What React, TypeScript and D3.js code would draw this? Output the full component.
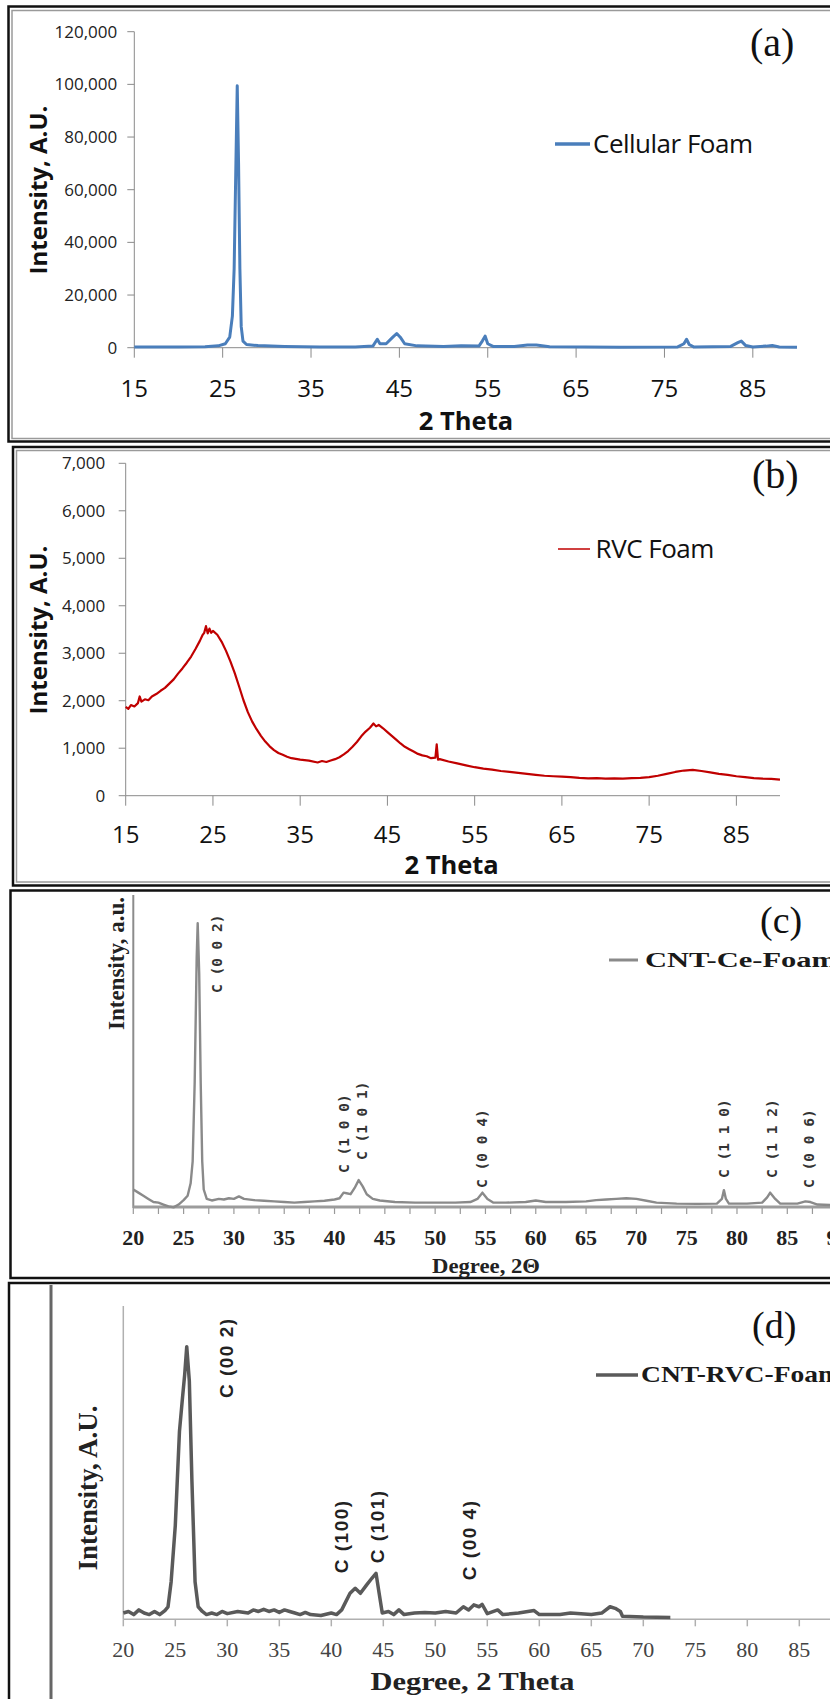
import * as d3 from "d3";

// (a) Cellular foam, 2 theta vs intensity
const cellularFoam: [number, number][] = [
  [15, 300], [18, 250], [20, 300], [23, 400], [24.5, 700], [25.3, 1500], [25.8, 4000],
  [26.1, 12000], [26.3, 30000], [26.5, 70000], [26.65, 99500], [26.8, 70000], [26.95, 30000],
  [27.1, 8000], [27.3, 2500], [27.7, 1200], [29, 800], [32, 500], [36, 300], [40, 300],
  [42, 600], [42.5, 3200], [42.8, 1500], [43.5, 1500], [44.2, 3800], [44.7, 5400], [45.1, 4000],
  [45.6, 1500], [47, 700], [50, 500], [52, 700], [54, 600], [54.4, 2600], [54.7, 4400],
  [55.0, 1500], [55.6, 500], [58, 500], [59.5, 1000], [60.5, 1000], [62, 400], [66, 250],
  [70, 200], [76.5, 300], [77.2, 1500], [77.5, 3200], [77.8, 1200], [78.3, 300], [82.5, 500],
  [83.3, 1900], [83.7, 2500], [84.2, 800], [85, 300], [86.5, 600], [87.2, 800], [88, 300], [90, 150],
];
const aYTicks = [0, 20000, 40000, 60000, 80000, 100000, 120000];
const aXTicks = [15, 25, 35, 45, 55, 65, 75, 85];

// (b) RVC foam
const rvcFoam: [number, number][] = [
  [15, 1870], [15.3, 1830], [15.6, 1910], [16, 1880], [16.4, 1950], [16.6, 2090], [16.8, 1980],
  [17.2, 2030], [17.6, 2010], [18, 2090], [18.5, 2140], [19, 2210], [19.5, 2270], [20, 2360],
  [20.5, 2450], [21, 2570], [21.5, 2680], [22, 2800], [22.5, 2930], [23, 3090], [23.5, 3260],
  [23.8, 3380], [24, 3430], [24.2, 3570], [24.4, 3420], [24.6, 3520], [24.8, 3430], [25, 3470],
  [25.5, 3390], [26, 3240], [26.5, 3050], [27, 2830], [27.5, 2580], [28, 2300], [28.5, 2010],
  [29, 1760], [29.5, 1560], [30, 1400], [30.5, 1260], [31, 1140], [31.5, 1040], [32, 960],
  [32.5, 900], [33, 860], [33.5, 820], [34, 790], [35, 760], [36, 740], [37, 700], [37.5, 730],
  [38, 710], [38.5, 740], [39, 770], [39.5, 810], [40, 870], [40.5, 940], [41, 1030],
  [41.5, 1130], [42, 1250], [42.5, 1350], [43, 1430], [43.4, 1520], [43.7, 1460], [44, 1490],
  [44.5, 1420], [45, 1340], [45.5, 1260], [46, 1180], [46.5, 1100], [47, 1030], [47.5, 980],
  [48, 930], [48.5, 880], [49, 850], [49.5, 830], [50, 790], [50.5, 800], [50.65, 1080],
  [50.8, 760], [51, 770], [52, 720], [53, 680], [54, 640], [55, 600], [56, 570], [57, 550],
  [58, 520], [59, 500], [60, 480], [61, 460], [62, 440], [63, 420], [64, 410], [65, 400],
  [66, 390], [67, 375], [68, 365], [69, 370], [70, 360], [71, 365], [72, 360], [73, 370],
  [74, 375], [75, 390], [76, 420], [77, 460], [78, 500], [79, 530], [80, 545], [81, 520],
  [82, 490], [83, 460], [84, 440], [85, 410], [86, 390], [87, 370], [88, 360], [89, 355], [90, 340],
];
const bYTicks = [0, 1000, 2000, 3000, 4000, 5000, 6000, 7000];
const bXTicks = [15, 25, 35, 45, 55, 65, 75, 85];

// (c) CNT-Ce-Foam (arbitrary units 0..100)
const cntCeFoam: [number, number][] = [
  [20, 6], [20.5, 5], [21, 4], [21.5, 3], [22, 2], [22.5, 1.8], [23, 1.2], [23.5, 0.6], [24, 0.3],
  [24.5, 1.2], [25, 2.6], [25.4, 4], [25.7, 8], [25.9, 15], [26.1, 40], [26.3, 80], [26.4, 91],
  [26.55, 75], [26.7, 40], [26.85, 15], [27, 6], [27.3, 3], [27.8, 2.5], [28.5, 3], [29, 2.8],
  [29.5, 3.2], [30, 3], [30.5, 3.8], [31, 3], [32, 2.6], [33, 2.4], [34, 2.2], [35, 2], [36, 1.8],
  [37, 2], [38, 2.2], [39, 2.4], [40, 2.8], [40.5, 3.2], [40.9, 5], [41.2, 4.8], [41.6, 4.5],
  [42, 6.5], [42.4, 9], [42.8, 7], [43.2, 4.5], [43.8, 3], [44.5, 2.5], [46, 2], [48, 1.8],
  [50, 1.8], [52, 1.8], [53.5, 2], [54.2, 3], [54.7, 5], [55.2, 3], [55.8, 1.8], [57, 1.8],
  [59, 2], [60, 2.5], [61, 2], [63, 2], [65, 2.2], [66, 2.6], [67, 2.8], [68, 3], [69, 3.2],
  [70, 3], [71, 2.4], [72, 1.8], [74, 1.5], [76, 1.4], [78, 1.5], [78.5, 3], [78.7, 5.8],
  [78.9, 3], [79.2, 1.5], [81, 1.5], [82.5, 1.8], [83, 3.5], [83.3, 5], [83.8, 3], [84.3, 1.5],
  [86, 1.5], [86.8, 2.2], [87.3, 2], [88, 1.2], [90, 1],
];
const cXTicks = [20, 25, 30, 35, 40, 45, 50, 55, 60, 65, 70, 75, 80, 85, 90];
const cMinorTicks = d3.range(20, 91, 2.5);
const cPeaks = [
  { label: "C (0 0 2)", deg: 28.8, at: 68.7 },
  { label: "C (1 0 0)", deg: 41.4, at: 11.3 },
  { label: "C (1 0 1)", deg: 43.2, at: 15.4 },
  { label: "C (0 0 4)", deg: 55.2, at: 6.5 },
  { label: "C (1 1 0)", deg: 79.2, at: 9.7 },
  { label: "C (1 1 2)", deg: 84.0, at: 9.7 },
  { label: "C (0 0 6)", deg: 87.7, at: 6.5 },
];

// (d) CNT-RVC-Foam (arbitrary units 0..100)
const cntRvcFoam: [number, number][] = [
  [20, 2], [20.5, 2.5], [21, 1.5], [21.5, 3], [22, 2], [22.5, 1.5], [23, 2.5], [23.5, 1.5],
  [24, 2.8], [24.3, 4], [24.6, 12], [25, 30], [25.4, 60], [25.7, 71], [25.9, 78], [26.1, 87],
  [26.35, 76], [26.6, 44], [26.9, 12], [27.2, 4], [27.6, 2.5], [28, 1.5], [28.5, 2], [29, 1.5],
  [29.5, 2.5], [30, 1.8], [31, 2.5], [32, 2], [32.5, 3], [33, 2.5], [33.5, 3.2], [34, 2.5],
  [34.5, 3], [35, 2.2], [35.5, 3], [36, 2.5], [36.5, 2], [37, 1.5], [37.5, 2.2], [38, 1.5],
  [39, 1.2], [40, 2], [40.5, 1.5], [41, 3], [41.3, 5], [41.8, 8.3], [42.3, 9.9], [42.8, 8.3],
  [43.4, 11], [43.9, 13.1], [44.3, 14.7], [44.6, 8.3], [44.9, 2], [45.5, 2.5], [46, 1.5],
  [46.5, 3], [47, 1.5], [48, 2], [49, 2.2], [50, 2], [51, 2.5], [52, 2], [52.7, 4], [53.2, 3],
  [53.7, 4.6], [54.2, 4], [54.5, 4.8], [55, 1.8], [56, 3], [56.5, 1.5], [58, 2], [59.5, 2.8],
  [60, 1.5], [62, 1.5], [63, 2], [65, 1.5], [66, 2], [66.8, 4], [67.3, 3.5], [67.8, 2.5],
  [68, 1], [70, 0.7], [72.6, 0.6],
];
const dXTicks = [20, 25, 30, 35, 40, 45, 50, 55, 60, 65, 70, 75, 80, 85];
const dPeaks = [
  { label: "C (00 2)", deg: 30.5, at: 70.6 },
  { label: "C (100)", deg: 41.6, at: 14.7 },
  { label: "C (101)", deg: 45.1, at: 17.9 },
  { label: "C (00 4)", deg: 53.9, at: 12.5 },
];

const sans = "'Open Sans', 'Liberation Sans', sans-serif";
const serif = "'Liberation Serif', 'Times New Roman', serif";
const mono = "'DejaVu Sans Mono', monospace";
const fmt = d3.format(",");

function PanelA() {
  const x = d3.scaleLinear().domain([15, 90]).range([134.3, 797]);
  const y = d3.scaleLinear().domain([0, 120000]).range([347.7, 31.7]);
  const line = d3.line<[number, number]>().x(d => x(d[0])).y(d => y(d[1]));
  return (
    <g>
      <line x1={x(15)} x2={x(15)} y1={y(0)} y2={y(120000)} stroke="#8a8a8a" />
      {aYTicks.map(t => (
        <g key={t}>
          <line x1={x(15) - 7} x2={x(15)} y1={y(t)} y2={y(t)} stroke="#8a8a8a" />
          <text x={x(15) - 17} y={y(t)} dy="0.35em" textAnchor="end" fontSize={17} fontFamily={sans} fill="#222">{fmt(t)}</text>
        </g>
      ))}
      <line x1={x(15)} x2={x(90)} y1={y(0)} y2={y(0)} stroke="#8a8a8a" />
      {aXTicks.map(t => (
        <g key={t}>
          <line x1={x(t)} x2={x(t)} y1={y(0)} y2={y(0) + 10} stroke="#8a8a8a" />
          <text x={x(t)} y={y(0) + 49} textAnchor="middle" fontSize={24} fontFamily={sans} fill="#111">{t}</text>
        </g>
      ))}
      <path d={line(cellularFoam) ?? ""} fill="none" stroke="#4a7ebb" strokeWidth={3} strokeLinejoin="round" />
      <text x={466} y={430} textAnchor="middle" fontSize={25.5} fontWeight="bold" fontFamily={sans} fill="#111">2 Theta</text>
      <text transform="translate(47,190) rotate(-90)" textAnchor="middle" fontSize={24} fontWeight="bold" fontFamily={sans} fill="#111">Intensity, A.U.</text>
      <line x1={555} x2={590} y1={144} y2={144} stroke="#4a7ebb" strokeWidth={3.5} />
      <text x={593} y={153} fontSize={26} fontFamily={sans} fill="#111" letterSpacing={-0.5}>Cellular Foam</text>
      <text x={750} y={56} fontSize={40} fontFamily={serif} fill="#111">(a)</text>
    </g>
  );
}

function PanelB() {
  const x = d3.scaleLinear().domain([15, 90]).range([125.7, 780]);
  const y = d3.scaleLinear().domain([0, 7000]).range([795.7, 463.3]);
  const line = d3.line<[number, number]>().x(d => x(d[0])).y(d => y(d[1]));
  return (
    <g>
      <line x1={x(15)} x2={x(15)} y1={y(0)} y2={y(7000)} stroke="#8a8a8a" />
      {bYTicks.map(t => (
        <g key={t}>
          <line x1={x(15) - 7} x2={x(15)} y1={y(t)} y2={y(t)} stroke="#8a8a8a" />
          <text x={x(15) - 20.5} y={y(t)} dy="0.35em" textAnchor="end" fontSize={17} fontFamily={sans} fill="#222">{fmt(t)}</text>
        </g>
      ))}
      <line x1={x(15)} x2={x(90)} y1={y(0)} y2={y(0)} stroke="#8a8a8a" />
      {bXTicks.map(t => (
        <g key={t}>
          <line x1={x(t)} x2={x(t)} y1={y(0)} y2={y(0) + 10} stroke="#8a8a8a" />
          <text x={x(t)} y={y(0) + 47} textAnchor="middle" fontSize={24} fontFamily={sans} fill="#111">{t}</text>
        </g>
      ))}
      <path d={line(rvcFoam) ?? ""} fill="none" stroke="#c00000" strokeWidth={2.2} strokeLinejoin="round" />
      <text x={451.6} y={874} textAnchor="middle" fontSize={25.5} fontWeight="bold" fontFamily={sans} fill="#111">2 Theta</text>
      <text transform="translate(46.7,630) rotate(-90)" textAnchor="middle" fontSize={24} fontWeight="bold" fontFamily={sans} fill="#111">Intensity, A.U.</text>
      <line x1={558} x2={590} y1={549} y2={549} stroke="#c00000" strokeWidth={1.5} />
      <text x={595.6} y={558} fontSize={26} fontFamily={sans} fill="#111" letterSpacing={-0.5}>RVC Foam</text>
      <text x={752} y={488} fontSize={40} fontFamily={serif} fill="#111">(b)</text>
    </g>
  );
}

function PanelC() {
  const x = d3.scaleLinear().domain([20, 90]).range([133.3, 837.6]);
  const y = d3.scaleLinear().domain([0, 100]).range([1208.3, 895]);
  const line = d3.line<[number, number]>().x(d => x(d[0])).y(d => y(d[1]));
  return (
    <g>
      <line x1={x(20)} x2={x(20)} y1={1208} y2={895} stroke="#8c8c8c" strokeWidth={2} />
      <line x1={x(20)} x2={840} y1={1207} y2={1207} stroke="#9c9c9c" strokeWidth={3} />
      {cMinorTicks.map(t => (
        <line key={t} x1={x(t)} x2={x(t)} y1={1208} y2={1214} stroke="#999" strokeWidth={1.2} />
      ))}
      {cXTicks.map(t => (
        <text key={t} x={x(t)} y={1245} textAnchor="middle" fontSize={22} fontWeight="bold" fontFamily={serif} fill="#222">{t}</text>
      ))}
      <path d={line(cntCeFoam) ?? ""} fill="none" stroke="#8a8a8a" strokeWidth={2.4} strokeLinejoin="round" />
      {cPeaks.map(p => (
        <text key={p.label + p.deg} transform={`translate(${x(p.deg)},${y(p.at)}) rotate(-90)`} fontSize={14.5} fontWeight="bold" fontFamily={mono} fill="#333">{p.label}</text>
      ))}
      <text x={486} y={1273} textAnchor="middle" fontSize={21} fontWeight="bold" fontFamily={serif} fill="#222" textLength={108} lengthAdjust="spacingAndGlyphs">Degree, 2Θ</text>
      <text transform="translate(123.5,1030) rotate(-90)" fontSize={23} fontWeight="bold" fontFamily={serif} fill="#222">Intensity, a.u.</text>
      <line x1={609} x2={638} y1={960} y2={960} stroke="#8a8a8a" strokeWidth={3} />
      <text x={645} y={967} fontSize={22} fontWeight="bold" fontFamily={serif} fill="#1a1a1a" textLength={192} lengthAdjust="spacingAndGlyphs">CNT-Ce-Foam</text>
      <text x={760} y={933} fontSize={38} fontFamily={serif} fill="#111">(c)</text>
    </g>
  );
}

function PanelD() {
  const x = d3.scaleLinear().domain([20, 90]).range([123.3, 851.3]);
  const y = d3.scaleLinear().domain([0, 100]).range([1619.3, 1306]);
  const line = d3.line<[number, number]>().x(d => x(d[0])).y(d => y(d[1]));
  return (
    <g>
      <line x1={x(20)} x2={x(20)} y1={y(0)} y2={1306} stroke="#b0b0b0" strokeWidth={1.5} />
      <line x1={x(20)} x2={840} y1={y(0)} y2={y(0)} stroke="#b0b0b0" strokeWidth={1.5} />
      {dXTicks.map(t => (
        <g key={t}>
          <line x1={x(t)} x2={x(t)} y1={y(0)} y2={y(0) + 7} stroke="#b0b0b0" strokeWidth={1.5} />
          <text x={x(t)} y={1657} textAnchor="middle" fontSize={22} fontFamily={serif} fill="#444">{t}</text>
        </g>
      ))}
      <path d={line(cntRvcFoam) ?? ""} fill="none" stroke="#5a5a5a" strokeWidth={3.5} strokeLinejoin="round" />
      {dPeaks.map(p => (
        <text key={p.label + p.deg} transform={`translate(${x(p.deg)},${y(p.at)}) rotate(-90)`} fontSize={19} fontWeight="bold" fontFamily="'Liberation Sans', Arial, sans-serif" fill="#222" letterSpacing={1.5}>{p.label}</text>
      ))}
      <text x={472.5} y={1690} textAnchor="middle" fontSize={25} fontWeight="bold" fontFamily={serif} fill="#222" textLength={204} lengthAdjust="spacingAndGlyphs">Degree, 2 Theta</text>
      <text transform="translate(97,1488) rotate(-90)" textAnchor="middle" fontSize={27} fontWeight="bold" fontFamily={serif} fill="#222">Intensity, A.U.</text>
      <line x1={596} x2={638} y1={1375} y2={1375} stroke="#5a5a5a" strokeWidth={3.5} />
      <text x={641} y={1382} fontSize={23} fontWeight="bold" fontFamily={serif} fill="#1a1a1a" textLength={200} lengthAdjust="spacingAndGlyphs">CNT-RVC-Foam</text>
      <text x={752} y={1338} fontSize={38} fontFamily={serif} fill="#111">(d)</text>
    </g>
  );
}

export default function App() {
  return (
    <svg width={830} height={1699} style={{ position: "absolute", left: 0, top: 0, background: "#fff" }}>
      {/* panel frames */}
      <rect x={8.5} y={6.5} width={900} height={435} fill="none" stroke="#111" strokeWidth={2.5} />
      <rect x={12} y={10.5} width={900} height={428} fill="none" stroke="#9a9a9a" strokeWidth={1.5} />
      <rect x={13} y={447} width={900} height={438.5} fill="none" stroke="#111" strokeWidth={2.5} />
      <rect x={16.5} y={450.5} width={900} height={431.5} fill="none" stroke="#9a9a9a" strokeWidth={1.5} />
      <rect x={10.5} y={890.5} width={900} height={387.5} fill="none" stroke="#111" strokeWidth={2.5} />
      <rect x={9} y={1283} width={900} height={450} fill="none" stroke="#111" strokeWidth={2.5} />
      <line x1={51} x2={51} y1={1285} y2={1699} stroke="#666" strokeWidth={3} />
      <PanelA />
      <PanelB />
      <PanelC />
      <PanelD />
    </svg>
  );
}
